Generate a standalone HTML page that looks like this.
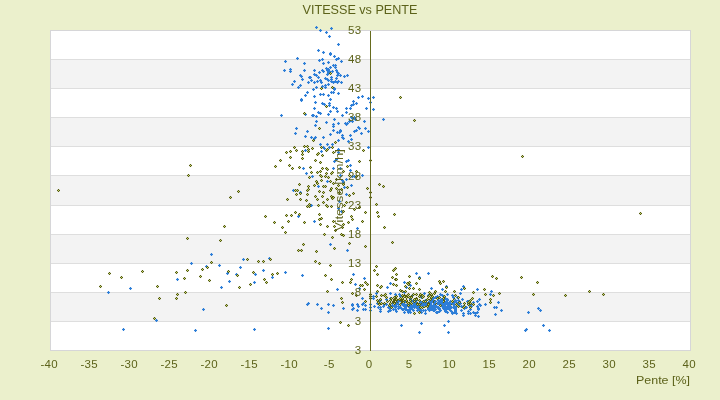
<!DOCTYPE html>
<html><head><meta charset="utf-8"><title>VITESSE vs PENTE</title>
<style>
html,body{margin:0;padding:0;background:#ebf0cc;}
body{position:relative;width:720px;height:400px;overflow:hidden;font-family:"Liberation Sans",sans-serif;}
svg{display:block}
text{font-family:"Liberation Sans",sans-serif;fill:#5c621a;}
.ov{position:absolute;left:0;top:0;will-change:transform;opacity:0.999}
</style></head><body>
<svg width="720" height="400" viewBox="0 0 720 400">
<defs>
<g id="o"><rect x="-1.5" y="-1.5" width="3" height="3" fill="#5c620e" opacity="0.14"/><path d="M-1.5-.5h3v1h-3zM-.5-1.5h1v3h-1z" fill="#555c0c"/><rect x="-.5" y="-.5" width="1" height="1" fill="#c2d272"/></g>
<g id="b"><rect x="-1.5" y="-1.5" width="3" height="3" fill="#2c7ed8" opacity="0.13"/><path d="M-1.5-.5h3v1h-3zM-.5-1.5h1v3h-1z" fill="#2c7ed8"/></g>
</defs>
<rect x="0" y="0" width="720" height="400" fill="#ebf0cc"/>
<rect x="50.5" y="30.5" width="640" height="320" fill="#ffffff" stroke="#d6d6d8" stroke-width="1"/>
<rect x="51" y="30" width="639" height="29" fill="#ffffff"/><rect x="51" y="59" width="639" height="29" fill="#f3f3f3"/><rect x="51" y="88" width="639" height="29" fill="#ffffff"/><rect x="51" y="117" width="639" height="29" fill="#f3f3f3"/><rect x="51" y="146" width="639" height="29" fill="#ffffff"/><rect x="51" y="175" width="639" height="30" fill="#f3f3f3"/><rect x="51" y="205" width="639" height="29" fill="#ffffff"/><rect x="51" y="234" width="639" height="29" fill="#f3f3f3"/><rect x="51" y="263" width="639" height="29" fill="#ffffff"/><rect x="51" y="292" width="639" height="29" fill="#f3f3f3"/><rect x="51" y="321" width="639" height="29" fill="#ffffff"/>
<rect x="51" y="59" width="639" height="1" fill="#dedede"/><rect x="51" y="88" width="639" height="1" fill="#dedede"/><rect x="51" y="117" width="639" height="1" fill="#dedede"/><rect x="51" y="146" width="639" height="1" fill="#dedede"/><rect x="51" y="175" width="639" height="1" fill="#dedede"/><rect x="51" y="205" width="639" height="1" fill="#dedede"/><rect x="51" y="234" width="639" height="1" fill="#dedede"/><rect x="51" y="263" width="639" height="1" fill="#dedede"/><rect x="51" y="292" width="639" height="1" fill="#dedede"/><rect x="51" y="321" width="639" height="1" fill="#dedede"/>
<rect x="50.5" y="30.5" width="640" height="320" fill="none" stroke="#d6d6d8" stroke-width="1"/>
<g id="pts-blue"><use href="#b" x="108.5" y="292.5"/><use href="#b" x="123.5" y="329.5"/><use href="#b" x="130.5" y="288.5"/><use href="#b" x="156.5" y="320.5"/><use href="#b" x="177.5" y="279.5"/><use href="#b" x="191.5" y="263.5"/><use href="#b" x="195.5" y="330.5"/><use href="#b" x="203.5" y="309.5"/><use href="#b" x="206.5" y="266.5"/><use href="#b" x="211.5" y="254.5"/><use href="#b" x="219.5" y="265.5"/><use href="#b" x="221.5" y="287.5"/><use href="#b" x="227.5" y="273.5"/><use href="#b" x="229.5" y="281.5"/><use href="#b" x="236.5" y="274.5"/><use href="#b" x="240.5" y="267.5"/><use href="#b" x="243.5" y="259.5"/><use href="#b" x="254.5" y="282.5"/><use href="#b" x="254.5" y="329.5"/><use href="#b" x="255.5" y="274.5"/><use href="#b" x="263.5" y="270.5"/><use href="#b" x="269.5" y="258.5"/><use href="#b" x="272.5" y="277.5"/><use href="#b" x="281.5" y="115.5"/><use href="#b" x="284.5" y="70.5"/><use href="#b" x="285.5" y="61.5"/><use href="#b" x="285.5" y="272.5"/><use href="#b" x="290.5" y="69.5"/><use href="#b" x="290.5" y="71.5"/><use href="#b" x="292.5" y="84.5"/><use href="#b" x="293.5" y="190.5"/><use href="#b" x="294.5" y="81.5"/><use href="#b" x="295.5" y="133.5"/><use href="#b" x="296.5" y="128.5"/><use href="#b" x="297.5" y="58.5"/><use href="#b" x="298.5" y="87.5"/><use href="#b" x="298.5" y="216.5"/><use href="#b" x="300.5" y="75.5"/><use href="#b" x="300.5" y="85.5"/><use href="#b" x="300.5" y="192.5"/><use href="#b" x="301.5" y="76.5"/><use href="#b" x="301.5" y="99.5"/><use href="#b" x="301.5" y="100.5"/><use href="#b" x="302.5" y="79.5"/><use href="#b" x="302.5" y="275.5"/><use href="#b" x="303.5" y="168.5"/><use href="#b" x="304.5" y="63.5"/><use href="#b" x="304.5" y="70.5"/><use href="#b" x="305.5" y="95.5"/><use href="#b" x="305.5" y="114.5"/><use href="#b" x="305.5" y="136.5"/><use href="#b" x="305.5" y="150.5"/><use href="#b" x="306.5" y="173.5"/><use href="#b" x="307.5" y="92.5"/><use href="#b" x="307.5" y="131.5"/><use href="#b" x="307.5" y="304.5"/><use href="#b" x="308.5" y="82.5"/><use href="#b" x="308.5" y="303.5"/><use href="#b" x="309.5" y="77.5"/><use href="#b" x="310.5" y="77.5"/><use href="#b" x="311.5" y="80.5"/><use href="#b" x="311.5" y="137.5"/><use href="#b" x="311.5" y="205.5"/><use href="#b" x="312.5" y="115.5"/><use href="#b" x="312.5" y="176.5"/><use href="#b" x="313.5" y="89.5"/><use href="#b" x="313.5" y="115.5"/><use href="#b" x="314.5" y="70.5"/><use href="#b" x="314.5" y="74.5"/><use href="#b" x="314.5" y="82.5"/><use href="#b" x="314.5" y="96.5"/><use href="#b" x="314.5" y="108.5"/><use href="#b" x="314.5" y="138.5"/><use href="#b" x="314.5" y="221.5"/><use href="#b" x="315.5" y="102.5"/><use href="#b" x="315.5" y="125.5"/><use href="#b" x="315.5" y="137.5"/><use href="#b" x="316.5" y="27.5"/><use href="#b" x="316.5" y="75.5"/><use href="#b" x="316.5" y="87.5"/><use href="#b" x="316.5" y="116.5"/><use href="#b" x="316.5" y="121.5"/><use href="#b" x="317.5" y="81.5"/><use href="#b" x="317.5" y="304.5"/><use href="#b" x="318.5" y="50.5"/><use href="#b" x="318.5" y="77.5"/><use href="#b" x="318.5" y="112.5"/><use href="#b" x="318.5" y="186.5"/><use href="#b" x="319.5" y="60.5"/><use href="#b" x="319.5" y="72.5"/><use href="#b" x="320.5" y="30.5"/><use href="#b" x="320.5" y="80.5"/><use href="#b" x="320.5" y="94.5"/><use href="#b" x="320.5" y="113.5"/><use href="#b" x="320.5" y="144.5"/><use href="#b" x="321.5" y="82.5"/><use href="#b" x="321.5" y="151.5"/><use href="#b" x="321.5" y="308.5"/><use href="#b" x="322.5" y="59.5"/><use href="#b" x="322.5" y="70.5"/><use href="#b" x="322.5" y="86.5"/><use href="#b" x="322.5" y="103.5"/><use href="#b" x="323.5" y="52.5"/><use href="#b" x="323.5" y="63.5"/><use href="#b" x="323.5" y="71.5"/><use href="#b" x="323.5" y="94.5"/><use href="#b" x="323.5" y="137.5"/><use href="#b" x="323.5" y="147.5"/><use href="#b" x="324.5" y="104.5"/><use href="#b" x="324.5" y="148.5"/><use href="#b" x="325.5" y="78.5"/><use href="#b" x="325.5" y="85.5"/><use href="#b" x="325.5" y="87.5"/><use href="#b" x="326.5" y="32.5"/><use href="#b" x="326.5" y="68.5"/><use href="#b" x="326.5" y="122.5"/><use href="#b" x="327.5" y="70.5"/><use href="#b" x="327.5" y="74.5"/><use href="#b" x="327.5" y="79.5"/><use href="#b" x="327.5" y="144.5"/><use href="#b" x="327.5" y="181.5"/><use href="#b" x="328.5" y="62.5"/><use href="#b" x="328.5" y="69.5"/><use href="#b" x="328.5" y="72.5"/><use href="#b" x="328.5" y="80.5"/><use href="#b" x="328.5" y="84.5"/><use href="#b" x="328.5" y="95.5"/><use href="#b" x="328.5" y="114.5"/><use href="#b" x="328.5" y="304.5"/><use href="#b" x="328.5" y="312.5"/><use href="#b" x="328.5" y="328.5"/><use href="#b" x="329.5" y="36.5"/><use href="#b" x="329.5" y="71.5"/><use href="#b" x="329.5" y="103.5"/><use href="#b" x="329.5" y="105.5"/><use href="#b" x="329.5" y="147.5"/><use href="#b" x="330.5" y="53.5"/><use href="#b" x="330.5" y="54.5"/><use href="#b" x="330.5" y="67.5"/><use href="#b" x="330.5" y="99.5"/><use href="#b" x="330.5" y="111.5"/><use href="#b" x="330.5" y="134.5"/><use href="#b" x="330.5" y="244.5"/><use href="#b" x="331.5" y="28.5"/><use href="#b" x="331.5" y="77.5"/><use href="#b" x="331.5" y="79.5"/><use href="#b" x="331.5" y="81.5"/><use href="#b" x="331.5" y="92.5"/><use href="#b" x="332.5" y="71.5"/><use href="#b" x="332.5" y="144.5"/><use href="#b" x="333.5" y="65.5"/><use href="#b" x="333.5" y="82.5"/><use href="#b" x="333.5" y="92.5"/><use href="#b" x="333.5" y="107.5"/><use href="#b" x="333.5" y="124.5"/><use href="#b" x="333.5" y="126.5"/><use href="#b" x="333.5" y="130.5"/><use href="#b" x="333.5" y="168.5"/><use href="#b" x="333.5" y="305.5"/><use href="#b" x="334.5" y="56.5"/><use href="#b" x="334.5" y="88.5"/><use href="#b" x="334.5" y="89.5"/><use href="#b" x="334.5" y="119.5"/><use href="#b" x="334.5" y="161.5"/><use href="#b" x="335.5" y="65.5"/><use href="#b" x="335.5" y="67.5"/><use href="#b" x="335.5" y="81.5"/><use href="#b" x="336.5" y="59.5"/><use href="#b" x="336.5" y="70.5"/><use href="#b" x="336.5" y="78.5"/><use href="#b" x="336.5" y="108.5"/><use href="#b" x="336.5" y="159.5"/><use href="#b" x="337.5" y="72.5"/><use href="#b" x="337.5" y="75.5"/><use href="#b" x="337.5" y="82.5"/><use href="#b" x="337.5" y="111.5"/><use href="#b" x="337.5" y="132.5"/><use href="#b" x="337.5" y="289.5"/><use href="#b" x="338.5" y="44.5"/><use href="#b" x="338.5" y="58.5"/><use href="#b" x="338.5" y="73.5"/><use href="#b" x="338.5" y="81.5"/><use href="#b" x="338.5" y="93.5"/><use href="#b" x="338.5" y="123.5"/><use href="#b" x="338.5" y="140.5"/><use href="#b" x="338.5" y="149.5"/><use href="#b" x="338.5" y="152.5"/><use href="#b" x="338.5" y="208.5"/><use href="#b" x="339.5" y="132.5"/><use href="#b" x="339.5" y="201.5"/><use href="#b" x="340.5" y="75.5"/><use href="#b" x="340.5" y="130.5"/><use href="#b" x="340.5" y="131.5"/><use href="#b" x="340.5" y="168.5"/><use href="#b" x="340.5" y="175.5"/><use href="#b" x="341.5" y="61.5"/><use href="#b" x="341.5" y="82.5"/><use href="#b" x="341.5" y="211.5"/><use href="#b" x="342.5" y="115.5"/><use href="#b" x="342.5" y="135.5"/><use href="#b" x="342.5" y="137.5"/><use href="#b" x="342.5" y="180.5"/><use href="#b" x="343.5" y="138.5"/><use href="#b" x="343.5" y="182.5"/><use href="#b" x="343.5" y="308.5"/><use href="#b" x="344.5" y="76.5"/><use href="#b" x="344.5" y="187.5"/><use href="#b" x="345.5" y="123.5"/><use href="#b" x="346.5" y="108.5"/><use href="#b" x="346.5" y="112.5"/><use href="#b" x="346.5" y="124.5"/><use href="#b" x="346.5" y="161.5"/><use href="#b" x="346.5" y="179.5"/><use href="#b" x="346.5" y="194.5"/><use href="#b" x="347.5" y="75.5"/><use href="#b" x="347.5" y="123.5"/><use href="#b" x="347.5" y="250.5"/><use href="#b" x="348.5" y="141.5"/><use href="#b" x="348.5" y="160.5"/><use href="#b" x="349.5" y="121.5"/><use href="#b" x="350.5" y="108.5"/><use href="#b" x="350.5" y="135.5"/><use href="#b" x="350.5" y="165.5"/><use href="#b" x="350.5" y="170.5"/><use href="#b" x="351.5" y="105.5"/><use href="#b" x="351.5" y="117.5"/><use href="#b" x="351.5" y="139.5"/><use href="#b" x="351.5" y="185.5"/><use href="#b" x="352.5" y="118.5"/><use href="#b" x="352.5" y="121.5"/><use href="#b" x="352.5" y="176.5"/><use href="#b" x="352.5" y="304.5"/><use href="#b" x="352.5" y="305.5"/><use href="#b" x="352.5" y="309.5"/><use href="#b" x="353.5" y="101.5"/><use href="#b" x="353.5" y="104.5"/><use href="#b" x="353.5" y="274.5"/><use href="#b" x="353.5" y="308.5"/><use href="#b" x="354.5" y="117.5"/><use href="#b" x="354.5" y="131.5"/><use href="#b" x="354.5" y="176.5"/><use href="#b" x="355.5" y="119.5"/><use href="#b" x="355.5" y="284.5"/><use href="#b" x="356.5" y="103.5"/><use href="#b" x="356.5" y="130.5"/><use href="#b" x="357.5" y="228.5"/><use href="#b" x="357.5" y="304.5"/><use href="#b" x="357.5" y="310.5"/><use href="#b" x="358.5" y="97.5"/><use href="#b" x="358.5" y="127.5"/><use href="#b" x="358.5" y="306.5"/><use href="#b" x="359.5" y="128.5"/><use href="#b" x="359.5" y="288.5"/><use href="#b" x="361.5" y="133.5"/><use href="#b" x="362.5" y="96.5"/><use href="#b" x="362.5" y="175.5"/><use href="#b" x="362.5" y="298.5"/><use href="#b" x="362.5" y="304.5"/><use href="#b" x="363.5" y="303.5"/><use href="#b" x="363.5" y="309.5"/><use href="#b" x="364.5" y="121.5"/><use href="#b" x="364.5" y="278.5"/><use href="#b" x="365.5" y="128.5"/><use href="#b" x="365.5" y="305.5"/><use href="#b" x="365.5" y="309.5"/><use href="#b" x="366.5" y="108.5"/><use href="#b" x="368.5" y="98.5"/><use href="#b" x="368.5" y="131.5"/><use href="#b" x="368.5" y="147.5"/><use href="#b" x="370.5" y="102.5"/><use href="#b" x="370.5" y="304.5"/><use href="#b" x="370.5" y="307.5"/><use href="#b" x="370.5" y="310.5"/><use href="#b" x="373.5" y="97.5"/><use href="#b" x="373.5" y="109.5"/><use href="#b" x="373.5" y="296.5"/><use href="#b" x="373.5" y="298.5"/><use href="#b" x="374.5" y="306.5"/><use href="#b" x="376.5" y="293.5"/><use href="#b" x="377.5" y="303.5"/><use href="#b" x="378.5" y="307.5"/><use href="#b" x="379.5" y="301.5"/><use href="#b" x="380.5" y="300.5"/><use href="#b" x="380.5" y="307.5"/><use href="#b" x="380.5" y="309.5"/><use href="#b" x="380.5" y="311.5"/><use href="#b" x="381.5" y="303.5"/><use href="#b" x="383.5" y="119.5"/><use href="#b" x="383.5" y="306.5"/><use href="#b" x="384.5" y="304.5"/><use href="#b" x="386.5" y="299.5"/><use href="#b" x="386.5" y="304.5"/><use href="#b" x="387.5" y="287.5"/><use href="#b" x="388.5" y="307.5"/><use href="#b" x="388.5" y="311.5"/><use href="#b" x="389.5" y="308.5"/><use href="#b" x="390.5" y="283.5"/><use href="#b" x="390.5" y="293.5"/><use href="#b" x="390.5" y="298.5"/><use href="#b" x="390.5" y="307.5"/><use href="#b" x="390.5" y="310.5"/><use href="#b" x="391.5" y="306.5"/><use href="#b" x="392.5" y="303.5"/><use href="#b" x="392.5" y="306.5"/><use href="#b" x="393.5" y="309.5"/><use href="#b" x="394.5" y="305.5"/><use href="#b" x="395.5" y="294.5"/><use href="#b" x="395.5" y="305.5"/><use href="#b" x="395.5" y="306.5"/><use href="#b" x="395.5" y="307.5"/><use href="#b" x="395.5" y="309.5"/><use href="#b" x="396.5" y="303.5"/><use href="#b" x="396.5" y="311.5"/><use href="#b" x="398.5" y="304.5"/><use href="#b" x="398.5" y="306.5"/><use href="#b" x="399.5" y="294.5"/><use href="#b" x="400.5" y="296.5"/><use href="#b" x="400.5" y="307.5"/><use href="#b" x="401.5" y="301.5"/><use href="#b" x="401.5" y="325.5"/><use href="#b" x="402.5" y="304.5"/><use href="#b" x="402.5" y="309.5"/><use href="#b" x="403.5" y="303.5"/><use href="#b" x="403.5" y="304.5"/><use href="#b" x="403.5" y="305.5"/><use href="#b" x="403.5" y="309.5"/><use href="#b" x="404.5" y="282.5"/><use href="#b" x="404.5" y="292.5"/><use href="#b" x="404.5" y="301.5"/><use href="#b" x="404.5" y="302.5"/><use href="#b" x="404.5" y="304.5"/><use href="#b" x="404.5" y="312.5"/><use href="#b" x="405.5" y="307.5"/><use href="#b" x="405.5" y="308.5"/><use href="#b" x="405.5" y="309.5"/><use href="#b" x="406.5" y="287.5"/><use href="#b" x="406.5" y="301.5"/><use href="#b" x="406.5" y="306.5"/><use href="#b" x="407.5" y="304.5"/><use href="#b" x="407.5" y="305.5"/><use href="#b" x="407.5" y="310.5"/><use href="#b" x="408.5" y="305.5"/><use href="#b" x="408.5" y="310.5"/><use href="#b" x="408.5" y="312.5"/><use href="#b" x="409.5" y="304.5"/><use href="#b" x="409.5" y="307.5"/><use href="#b" x="409.5" y="310.5"/><use href="#b" x="410.5" y="285.5"/><use href="#b" x="410.5" y="299.5"/><use href="#b" x="410.5" y="303.5"/><use href="#b" x="410.5" y="305.5"/><use href="#b" x="410.5" y="306.5"/><use href="#b" x="410.5" y="308.5"/><use href="#b" x="410.5" y="312.5"/><use href="#b" x="411.5" y="301.5"/><use href="#b" x="411.5" y="303.5"/><use href="#b" x="411.5" y="305.5"/><use href="#b" x="411.5" y="306.5"/><use href="#b" x="412.5" y="295.5"/><use href="#b" x="412.5" y="306.5"/><use href="#b" x="413.5" y="300.5"/><use href="#b" x="413.5" y="303.5"/><use href="#b" x="413.5" y="305.5"/><use href="#b" x="413.5" y="310.5"/><use href="#b" x="414.5" y="302.5"/><use href="#b" x="414.5" y="303.5"/><use href="#b" x="414.5" y="307.5"/><use href="#b" x="415.5" y="301.5"/><use href="#b" x="415.5" y="304.5"/><use href="#b" x="416.5" y="273.5"/><use href="#b" x="416.5" y="300.5"/><use href="#b" x="416.5" y="303.5"/><use href="#b" x="416.5" y="307.5"/><use href="#b" x="417.5" y="305.5"/><use href="#b" x="417.5" y="307.5"/><use href="#b" x="417.5" y="310.5"/><use href="#b" x="419.5" y="277.5"/><use href="#b" x="419.5" y="306.5"/><use href="#b" x="419.5" y="308.5"/><use href="#b" x="419.5" y="309.5"/><use href="#b" x="419.5" y="332.5"/><use href="#b" x="420.5" y="294.5"/><use href="#b" x="420.5" y="303.5"/><use href="#b" x="420.5" y="304.5"/><use href="#b" x="420.5" y="305.5"/><use href="#b" x="420.5" y="307.5"/><use href="#b" x="420.5" y="310.5"/><use href="#b" x="421.5" y="297.5"/><use href="#b" x="421.5" y="302.5"/><use href="#b" x="421.5" y="310.5"/><use href="#b" x="421.5" y="312.5"/><use href="#b" x="421.5" y="323.5"/><use href="#b" x="422.5" y="302.5"/><use href="#b" x="422.5" y="305.5"/><use href="#b" x="423.5" y="296.5"/><use href="#b" x="423.5" y="303.5"/><use href="#b" x="423.5" y="304.5"/><use href="#b" x="423.5" y="310.5"/><use href="#b" x="424.5" y="293.5"/><use href="#b" x="424.5" y="303.5"/><use href="#b" x="424.5" y="305.5"/><use href="#b" x="424.5" y="306.5"/><use href="#b" x="425.5" y="300.5"/><use href="#b" x="425.5" y="303.5"/><use href="#b" x="425.5" y="310.5"/><use href="#b" x="425.5" y="313.5"/><use href="#b" x="426.5" y="303.5"/><use href="#b" x="426.5" y="304.5"/><use href="#b" x="427.5" y="303.5"/><use href="#b" x="427.5" y="304.5"/><use href="#b" x="428.5" y="273.5"/><use href="#b" x="428.5" y="295.5"/><use href="#b" x="428.5" y="303.5"/><use href="#b" x="428.5" y="308.5"/><use href="#b" x="428.5" y="309.5"/><use href="#b" x="429.5" y="301.5"/><use href="#b" x="429.5" y="306.5"/><use href="#b" x="429.5" y="310.5"/><use href="#b" x="430.5" y="301.5"/><use href="#b" x="430.5" y="304.5"/><use href="#b" x="431.5" y="288.5"/><use href="#b" x="431.5" y="305.5"/><use href="#b" x="431.5" y="306.5"/><use href="#b" x="431.5" y="309.5"/><use href="#b" x="432.5" y="300.5"/><use href="#b" x="432.5" y="307.5"/><use href="#b" x="433.5" y="298.5"/><use href="#b" x="433.5" y="305.5"/><use href="#b" x="433.5" y="306.5"/><use href="#b" x="433.5" y="308.5"/><use href="#b" x="433.5" y="310.5"/><use href="#b" x="434.5" y="310.5"/><use href="#b" x="435.5" y="297.5"/><use href="#b" x="435.5" y="306.5"/><use href="#b" x="435.5" y="307.5"/><use href="#b" x="435.5" y="309.5"/><use href="#b" x="436.5" y="306.5"/><use href="#b" x="436.5" y="312.5"/><use href="#b" x="437.5" y="296.5"/><use href="#b" x="437.5" y="303.5"/><use href="#b" x="437.5" y="312.5"/><use href="#b" x="438.5" y="302.5"/><use href="#b" x="438.5" y="307.5"/><use href="#b" x="439.5" y="301.5"/><use href="#b" x="439.5" y="304.5"/><use href="#b" x="439.5" y="308.5"/><use href="#b" x="439.5" y="311.5"/><use href="#b" x="440.5" y="294.5"/><use href="#b" x="440.5" y="301.5"/><use href="#b" x="440.5" y="304.5"/><use href="#b" x="440.5" y="310.5"/><use href="#b" x="441.5" y="299.5"/><use href="#b" x="441.5" y="303.5"/><use href="#b" x="442.5" y="289.5"/><use href="#b" x="442.5" y="295.5"/><use href="#b" x="442.5" y="303.5"/><use href="#b" x="442.5" y="306.5"/><use href="#b" x="443.5" y="306.5"/><use href="#b" x="444.5" y="298.5"/><use href="#b" x="444.5" y="301.5"/><use href="#b" x="444.5" y="305.5"/><use href="#b" x="444.5" y="308.5"/><use href="#b" x="444.5" y="325.5"/><use href="#b" x="445.5" y="298.5"/><use href="#b" x="445.5" y="302.5"/><use href="#b" x="445.5" y="306.5"/><use href="#b" x="445.5" y="311.5"/><use href="#b" x="446.5" y="286.5"/><use href="#b" x="446.5" y="301.5"/><use href="#b" x="446.5" y="307.5"/><use href="#b" x="447.5" y="294.5"/><use href="#b" x="447.5" y="299.5"/><use href="#b" x="447.5" y="300.5"/><use href="#b" x="447.5" y="306.5"/><use href="#b" x="447.5" y="308.5"/><use href="#b" x="447.5" y="312.5"/><use href="#b" x="448.5" y="303.5"/><use href="#b" x="448.5" y="304.5"/><use href="#b" x="448.5" y="307.5"/><use href="#b" x="448.5" y="321.5"/><use href="#b" x="448.5" y="332.5"/><use href="#b" x="449.5" y="303.5"/><use href="#b" x="449.5" y="306.5"/><use href="#b" x="449.5" y="309.5"/><use href="#b" x="450.5" y="301.5"/><use href="#b" x="450.5" y="306.5"/><use href="#b" x="450.5" y="310.5"/><use href="#b" x="451.5" y="307.5"/><use href="#b" x="451.5" y="311.5"/><use href="#b" x="452.5" y="295.5"/><use href="#b" x="452.5" y="301.5"/><use href="#b" x="452.5" y="313.5"/><use href="#b" x="453.5" y="297.5"/><use href="#b" x="453.5" y="303.5"/><use href="#b" x="453.5" y="307.5"/><use href="#b" x="454.5" y="302.5"/><use href="#b" x="454.5" y="306.5"/><use href="#b" x="454.5" y="312.5"/><use href="#b" x="455.5" y="308.5"/><use href="#b" x="455.5" y="309.5"/><use href="#b" x="455.5" y="310.5"/><use href="#b" x="455.5" y="311.5"/><use href="#b" x="456.5" y="302.5"/><use href="#b" x="456.5" y="306.5"/><use href="#b" x="456.5" y="313.5"/><use href="#b" x="457.5" y="297.5"/><use href="#b" x="458.5" y="300.5"/><use href="#b" x="458.5" y="303.5"/><use href="#b" x="458.5" y="304.5"/><use href="#b" x="459.5" y="301.5"/><use href="#b" x="459.5" y="304.5"/><use href="#b" x="460.5" y="293.5"/><use href="#b" x="460.5" y="303.5"/><use href="#b" x="461.5" y="289.5"/><use href="#b" x="461.5" y="306.5"/><use href="#b" x="461.5" y="310.5"/><use href="#b" x="462.5" y="299.5"/><use href="#b" x="463.5" y="286.5"/><use href="#b" x="463.5" y="306.5"/><use href="#b" x="463.5" y="313.5"/><use href="#b" x="463.5" y="315.5"/><use href="#b" x="464.5" y="308.5"/><use href="#b" x="467.5" y="301.5"/><use href="#b" x="468.5" y="301.5"/><use href="#b" x="468.5" y="303.5"/><use href="#b" x="468.5" y="311.5"/><use href="#b" x="468.5" y="313.5"/><use href="#b" x="469.5" y="305.5"/><use href="#b" x="470.5" y="309.5"/><use href="#b" x="470.5" y="313.5"/><use href="#b" x="471.5" y="304.5"/><use href="#b" x="471.5" y="306.5"/><use href="#b" x="473.5" y="302.5"/><use href="#b" x="473.5" y="312.5"/><use href="#b" x="475.5" y="313.5"/><use href="#b" x="475.5" y="315.5"/><use href="#b" x="477.5" y="289.5"/><use href="#b" x="477.5" y="301.5"/><use href="#b" x="477.5" y="306.5"/><use href="#b" x="477.5" y="312.5"/><use href="#b" x="478.5" y="308.5"/><use href="#b" x="478.5" y="309.5"/><use href="#b" x="478.5" y="316.5"/><use href="#b" x="479.5" y="299.5"/><use href="#b" x="479.5" y="304.5"/><use href="#b" x="480.5" y="305.5"/><use href="#b" x="485.5" y="304.5"/><use href="#b" x="490.5" y="294.5"/><use href="#b" x="491.5" y="291.5"/><use href="#b" x="494.5" y="307.5"/><use href="#b" x="495.5" y="314.5"/><use href="#b" x="496.5" y="307.5"/><use href="#b" x="498.5" y="302.5"/><use href="#b" x="501.5" y="310.5"/><use href="#b" x="525.5" y="330.5"/><use href="#b" x="526.5" y="329.5"/><use href="#b" x="528.5" y="312.5"/><use href="#b" x="538.5" y="308.5"/><use href="#b" x="540.5" y="310.5"/><use href="#b" x="543.5" y="325.5"/><use href="#b" x="549.5" y="330.5"/></g>
<g id="pts-olive"><use href="#o" x="58.5" y="190.5"/><use href="#o" x="100.5" y="286.5"/><use href="#o" x="109.5" y="273.5"/><use href="#o" x="121.5" y="277.5"/><use href="#o" x="142.5" y="271.5"/><use href="#o" x="154.5" y="318.5"/><use href="#o" x="157.5" y="286.5"/><use href="#o" x="159.5" y="298.5"/><use href="#o" x="176.5" y="272.5"/><use href="#o" x="176.5" y="298.5"/><use href="#o" x="177.5" y="294.5"/><use href="#o" x="184.5" y="278.5"/><use href="#o" x="185.5" y="292.5"/><use href="#o" x="187.5" y="238.5"/><use href="#o" x="187.5" y="270.5"/><use href="#o" x="188.5" y="175.5"/><use href="#o" x="190.5" y="165.5"/><use href="#o" x="200.5" y="276.5"/><use href="#o" x="202.5" y="269.5"/><use href="#o" x="207.5" y="267.5"/><use href="#o" x="209.5" y="280.5"/><use href="#o" x="211.5" y="262.5"/><use href="#o" x="220.5" y="240.5"/><use href="#o" x="224.5" y="226.5"/><use href="#o" x="226.5" y="305.5"/><use href="#o" x="228.5" y="271.5"/><use href="#o" x="230.5" y="197.5"/><use href="#o" x="237.5" y="275.5"/><use href="#o" x="238.5" y="191.5"/><use href="#o" x="239.5" y="287.5"/><use href="#o" x="247.5" y="259.5"/><use href="#o" x="250.5" y="284.5"/><use href="#o" x="253.5" y="272.5"/><use href="#o" x="258.5" y="261.5"/><use href="#o" x="263.5" y="261.5"/><use href="#o" x="264.5" y="279.5"/><use href="#o" x="265.5" y="216.5"/><use href="#o" x="266.5" y="282.5"/><use href="#o" x="270.5" y="259.5"/><use href="#o" x="272.5" y="274.5"/><use href="#o" x="274.5" y="222.5"/><use href="#o" x="275.5" y="166.5"/><use href="#o" x="277.5" y="273.5"/><use href="#o" x="280.5" y="160.5"/><use href="#o" x="282.5" y="227.5"/><use href="#o" x="285.5" y="232.5"/><use href="#o" x="286.5" y="152.5"/><use href="#o" x="286.5" y="215.5"/><use href="#o" x="287.5" y="199.5"/><use href="#o" x="288.5" y="221.5"/><use href="#o" x="289.5" y="165.5"/><use href="#o" x="290.5" y="151.5"/><use href="#o" x="290.5" y="157.5"/><use href="#o" x="291.5" y="215.5"/><use href="#o" x="292.5" y="168.5"/><use href="#o" x="294.5" y="147.5"/><use href="#o" x="295.5" y="190.5"/><use href="#o" x="295.5" y="212.5"/><use href="#o" x="296.5" y="150.5"/><use href="#o" x="296.5" y="194.5"/><use href="#o" x="297.5" y="190.5"/><use href="#o" x="298.5" y="250.5"/><use href="#o" x="299.5" y="167.5"/><use href="#o" x="299.5" y="184.5"/><use href="#o" x="299.5" y="214.5"/><use href="#o" x="300.5" y="193.5"/><use href="#o" x="300.5" y="199.5"/><use href="#o" x="301.5" y="250.5"/><use href="#o" x="302.5" y="151.5"/><use href="#o" x="302.5" y="154.5"/><use href="#o" x="302.5" y="158.5"/><use href="#o" x="303.5" y="244.5"/><use href="#o" x="304.5" y="113.5"/><use href="#o" x="304.5" y="146.5"/><use href="#o" x="304.5" y="222.5"/><use href="#o" x="306.5" y="200.5"/><use href="#o" x="307.5" y="146.5"/><use href="#o" x="307.5" y="190.5"/><use href="#o" x="307.5" y="194.5"/><use href="#o" x="307.5" y="206.5"/><use href="#o" x="308.5" y="149.5"/><use href="#o" x="308.5" y="151.5"/><use href="#o" x="308.5" y="186.5"/><use href="#o" x="308.5" y="189.5"/><use href="#o" x="309.5" y="177.5"/><use href="#o" x="309.5" y="204.5"/><use href="#o" x="309.5" y="206.5"/><use href="#o" x="310.5" y="167.5"/><use href="#o" x="311.5" y="172.5"/><use href="#o" x="312.5" y="148.5"/><use href="#o" x="313.5" y="140.5"/><use href="#o" x="314.5" y="185.5"/><use href="#o" x="315.5" y="160.5"/><use href="#o" x="315.5" y="196.5"/><use href="#o" x="315.5" y="261.5"/><use href="#o" x="316.5" y="181.5"/><use href="#o" x="316.5" y="251.5"/><use href="#o" x="317.5" y="154.5"/><use href="#o" x="317.5" y="172.5"/><use href="#o" x="317.5" y="183.5"/><use href="#o" x="317.5" y="199.5"/><use href="#o" x="318.5" y="153.5"/><use href="#o" x="318.5" y="205.5"/><use href="#o" x="319.5" y="128.5"/><use href="#o" x="319.5" y="191.5"/><use href="#o" x="319.5" y="214.5"/><use href="#o" x="319.5" y="219.5"/><use href="#o" x="319.5" y="263.5"/><use href="#o" x="320.5" y="162.5"/><use href="#o" x="320.5" y="171.5"/><use href="#o" x="320.5" y="175.5"/><use href="#o" x="320.5" y="224.5"/><use href="#o" x="321.5" y="88.5"/><use href="#o" x="321.5" y="147.5"/><use href="#o" x="321.5" y="176.5"/><use href="#o" x="321.5" y="180.5"/><use href="#o" x="321.5" y="218.5"/><use href="#o" x="322.5" y="155.5"/><use href="#o" x="322.5" y="168.5"/><use href="#o" x="322.5" y="196.5"/><use href="#o" x="323.5" y="186.5"/><use href="#o" x="323.5" y="192.5"/><use href="#o" x="323.5" y="202.5"/><use href="#o" x="324.5" y="234.5"/><use href="#o" x="325.5" y="176.5"/><use href="#o" x="325.5" y="186.5"/><use href="#o" x="325.5" y="275.5"/><use href="#o" x="326.5" y="106.5"/><use href="#o" x="326.5" y="150.5"/><use href="#o" x="326.5" y="168.5"/><use href="#o" x="326.5" y="173.5"/><use href="#o" x="326.5" y="205.5"/><use href="#o" x="327.5" y="149.5"/><use href="#o" x="327.5" y="169.5"/><use href="#o" x="327.5" y="199.5"/><use href="#o" x="327.5" y="206.5"/><use href="#o" x="327.5" y="226.5"/><use href="#o" x="327.5" y="291.5"/><use href="#o" x="328.5" y="177.5"/><use href="#o" x="330.5" y="73.5"/><use href="#o" x="330.5" y="181.5"/><use href="#o" x="330.5" y="190.5"/><use href="#o" x="330.5" y="265.5"/><use href="#o" x="331.5" y="173.5"/><use href="#o" x="331.5" y="188.5"/><use href="#o" x="331.5" y="196.5"/><use href="#o" x="331.5" y="206.5"/><use href="#o" x="331.5" y="279.5"/><use href="#o" x="332.5" y="87.5"/><use href="#o" x="332.5" y="147.5"/><use href="#o" x="332.5" y="172.5"/><use href="#o" x="332.5" y="198.5"/><use href="#o" x="332.5" y="237.5"/><use href="#o" x="333.5" y="152.5"/><use href="#o" x="333.5" y="183.5"/><use href="#o" x="333.5" y="197.5"/><use href="#o" x="333.5" y="221.5"/><use href="#o" x="334.5" y="226.5"/><use href="#o" x="334.5" y="248.5"/><use href="#o" x="335.5" y="142.5"/><use href="#o" x="335.5" y="230.5"/><use href="#o" x="336.5" y="179.5"/><use href="#o" x="336.5" y="188.5"/><use href="#o" x="338.5" y="185.5"/><use href="#o" x="339.5" y="192.5"/><use href="#o" x="340.5" y="322.5"/><use href="#o" x="341.5" y="189.5"/><use href="#o" x="341.5" y="234.5"/><use href="#o" x="341.5" y="298.5"/><use href="#o" x="342.5" y="227.5"/><use href="#o" x="342.5" y="282.5"/><use href="#o" x="342.5" y="302.5"/><use href="#o" x="343.5" y="171.5"/><use href="#o" x="343.5" y="184.5"/><use href="#o" x="343.5" y="211.5"/><use href="#o" x="343.5" y="224.5"/><use href="#o" x="343.5" y="235.5"/><use href="#o" x="344.5" y="205.5"/><use href="#o" x="346.5" y="202.5"/><use href="#o" x="347.5" y="166.5"/><use href="#o" x="347.5" y="187.5"/><use href="#o" x="348.5" y="222.5"/><use href="#o" x="348.5" y="325.5"/><use href="#o" x="349.5" y="175.5"/><use href="#o" x="349.5" y="195.5"/><use href="#o" x="349.5" y="243.5"/><use href="#o" x="350.5" y="282.5"/><use href="#o" x="351.5" y="216.5"/><use href="#o" x="351.5" y="279.5"/><use href="#o" x="352.5" y="219.5"/><use href="#o" x="352.5" y="293.5"/><use href="#o" x="353.5" y="193.5"/><use href="#o" x="354.5" y="209.5"/><use href="#o" x="356.5" y="171.5"/><use href="#o" x="356.5" y="176.5"/><use href="#o" x="356.5" y="295.5"/><use href="#o" x="359.5" y="161.5"/><use href="#o" x="359.5" y="207.5"/><use href="#o" x="360.5" y="285.5"/><use href="#o" x="362.5" y="221.5"/><use href="#o" x="362.5" y="285.5"/><use href="#o" x="363.5" y="150.5"/><use href="#o" x="364.5" y="289.5"/><use href="#o" x="365.5" y="212.5"/><use href="#o" x="365.5" y="246.5"/><use href="#o" x="365.5" y="282.5"/><use href="#o" x="365.5" y="301.5"/><use href="#o" x="367.5" y="188.5"/><use href="#o" x="367.5" y="284.5"/><use href="#o" x="370.5" y="160.5"/><use href="#o" x="370.5" y="192.5"/><use href="#o" x="370.5" y="197.5"/><use href="#o" x="370.5" y="294.5"/><use href="#o" x="370.5" y="296.5"/><use href="#o" x="370.5" y="298.5"/><use href="#o" x="374.5" y="270.5"/><use href="#o" x="376.5" y="204.5"/><use href="#o" x="376.5" y="266.5"/><use href="#o" x="376.5" y="296.5"/><use href="#o" x="377.5" y="212.5"/><use href="#o" x="377.5" y="274.5"/><use href="#o" x="377.5" y="285.5"/><use href="#o" x="377.5" y="291.5"/><use href="#o" x="377.5" y="300.5"/><use href="#o" x="378.5" y="216.5"/><use href="#o" x="378.5" y="302.5"/><use href="#o" x="379.5" y="184.5"/><use href="#o" x="379.5" y="304.5"/><use href="#o" x="380.5" y="287.5"/><use href="#o" x="380.5" y="299.5"/><use href="#o" x="381.5" y="286.5"/><use href="#o" x="381.5" y="295.5"/><use href="#o" x="381.5" y="303.5"/><use href="#o" x="383.5" y="186.5"/><use href="#o" x="384.5" y="227.5"/><use href="#o" x="384.5" y="295.5"/><use href="#o" x="384.5" y="303.5"/><use href="#o" x="385.5" y="294.5"/><use href="#o" x="386.5" y="297.5"/><use href="#o" x="387.5" y="301.5"/><use href="#o" x="389.5" y="305.5"/><use href="#o" x="390.5" y="300.5"/><use href="#o" x="390.5" y="303.5"/><use href="#o" x="391.5" y="298.5"/><use href="#o" x="391.5" y="307.5"/><use href="#o" x="392.5" y="242.5"/><use href="#o" x="392.5" y="277.5"/><use href="#o" x="393.5" y="270.5"/><use href="#o" x="393.5" y="284.5"/><use href="#o" x="393.5" y="301.5"/><use href="#o" x="393.5" y="302.5"/><use href="#o" x="394.5" y="214.5"/><use href="#o" x="394.5" y="269.5"/><use href="#o" x="394.5" y="297.5"/><use href="#o" x="394.5" y="299.5"/><use href="#o" x="394.5" y="302.5"/><use href="#o" x="394.5" y="303.5"/><use href="#o" x="395.5" y="268.5"/><use href="#o" x="395.5" y="279.5"/><use href="#o" x="395.5" y="298.5"/><use href="#o" x="395.5" y="299.5"/><use href="#o" x="396.5" y="274.5"/><use href="#o" x="396.5" y="279.5"/><use href="#o" x="396.5" y="285.5"/><use href="#o" x="396.5" y="296.5"/><use href="#o" x="396.5" y="299.5"/><use href="#o" x="397.5" y="301.5"/><use href="#o" x="398.5" y="300.5"/><use href="#o" x="398.5" y="301.5"/><use href="#o" x="399.5" y="299.5"/><use href="#o" x="400.5" y="97.5"/><use href="#o" x="400.5" y="290.5"/><use href="#o" x="400.5" y="298.5"/><use href="#o" x="400.5" y="304.5"/><use href="#o" x="401.5" y="300.5"/><use href="#o" x="401.5" y="303.5"/><use href="#o" x="402.5" y="291.5"/><use href="#o" x="402.5" y="295.5"/><use href="#o" x="402.5" y="298.5"/><use href="#o" x="402.5" y="300.5"/><use href="#o" x="402.5" y="303.5"/><use href="#o" x="403.5" y="300.5"/><use href="#o" x="403.5" y="302.5"/><use href="#o" x="404.5" y="295.5"/><use href="#o" x="404.5" y="296.5"/><use href="#o" x="405.5" y="286.5"/><use href="#o" x="405.5" y="291.5"/><use href="#o" x="406.5" y="297.5"/><use href="#o" x="406.5" y="300.5"/><use href="#o" x="407.5" y="283.5"/><use href="#o" x="407.5" y="295.5"/><use href="#o" x="407.5" y="302.5"/><use href="#o" x="408.5" y="284.5"/><use href="#o" x="408.5" y="294.5"/><use href="#o" x="408.5" y="303.5"/><use href="#o" x="408.5" y="305.5"/><use href="#o" x="409.5" y="276.5"/><use href="#o" x="409.5" y="282.5"/><use href="#o" x="409.5" y="288.5"/><use href="#o" x="409.5" y="297.5"/><use href="#o" x="410.5" y="300.5"/><use href="#o" x="410.5" y="302.5"/><use href="#o" x="411.5" y="296.5"/><use href="#o" x="411.5" y="297.5"/><use href="#o" x="411.5" y="303.5"/><use href="#o" x="413.5" y="288.5"/><use href="#o" x="413.5" y="294.5"/><use href="#o" x="414.5" y="120.5"/><use href="#o" x="414.5" y="299.5"/><use href="#o" x="414.5" y="301.5"/><use href="#o" x="414.5" y="313.5"/><use href="#o" x="416.5" y="283.5"/><use href="#o" x="416.5" y="294.5"/><use href="#o" x="416.5" y="298.5"/><use href="#o" x="416.5" y="299.5"/><use href="#o" x="417.5" y="303.5"/><use href="#o" x="417.5" y="304.5"/><use href="#o" x="419.5" y="278.5"/><use href="#o" x="419.5" y="289.5"/><use href="#o" x="419.5" y="296.5"/><use href="#o" x="419.5" y="300.5"/><use href="#o" x="419.5" y="304.5"/><use href="#o" x="419.5" y="312.5"/><use href="#o" x="420.5" y="294.5"/><use href="#o" x="420.5" y="303.5"/><use href="#o" x="420.5" y="307.5"/><use href="#o" x="422.5" y="295.5"/><use href="#o" x="422.5" y="297.5"/><use href="#o" x="422.5" y="307.5"/><use href="#o" x="423.5" y="296.5"/><use href="#o" x="423.5" y="301.5"/><use href="#o" x="424.5" y="306.5"/><use href="#o" x="425.5" y="301.5"/><use href="#o" x="427.5" y="299.5"/><use href="#o" x="427.5" y="306.5"/><use href="#o" x="428.5" y="296.5"/><use href="#o" x="428.5" y="303.5"/><use href="#o" x="428.5" y="304.5"/><use href="#o" x="429.5" y="292.5"/><use href="#o" x="429.5" y="295.5"/><use href="#o" x="430.5" y="299.5"/><use href="#o" x="431.5" y="294.5"/><use href="#o" x="431.5" y="297.5"/><use href="#o" x="432.5" y="296.5"/><use href="#o" x="434.5" y="293.5"/><use href="#o" x="434.5" y="301.5"/><use href="#o" x="434.5" y="302.5"/><use href="#o" x="435.5" y="291.5"/><use href="#o" x="435.5" y="303.5"/><use href="#o" x="437.5" y="298.5"/><use href="#o" x="438.5" y="300.5"/><use href="#o" x="439.5" y="281.5"/><use href="#o" x="439.5" y="297.5"/><use href="#o" x="440.5" y="283.5"/><use href="#o" x="440.5" y="305.5"/><use href="#o" x="443.5" y="281.5"/><use href="#o" x="443.5" y="298.5"/><use href="#o" x="443.5" y="300.5"/><use href="#o" x="443.5" y="301.5"/><use href="#o" x="444.5" y="296.5"/><use href="#o" x="445.5" y="291.5"/><use href="#o" x="446.5" y="287.5"/><use href="#o" x="450.5" y="304.5"/><use href="#o" x="452.5" y="301.5"/><use href="#o" x="454.5" y="291.5"/><use href="#o" x="454.5" y="299.5"/><use href="#o" x="455.5" y="295.5"/><use href="#o" x="456.5" y="304.5"/><use href="#o" x="458.5" y="297.5"/><use href="#o" x="458.5" y="306.5"/><use href="#o" x="459.5" y="302.5"/><use href="#o" x="463.5" y="307.5"/><use href="#o" x="464.5" y="288.5"/><use href="#o" x="464.5" y="303.5"/><use href="#o" x="464.5" y="306.5"/><use href="#o" x="468.5" y="302.5"/><use href="#o" x="468.5" y="304.5"/><use href="#o" x="469.5" y="301.5"/><use href="#o" x="470.5" y="300.5"/><use href="#o" x="470.5" y="303.5"/><use href="#o" x="470.5" y="307.5"/><use href="#o" x="472.5" y="298.5"/><use href="#o" x="473.5" y="292.5"/><use href="#o" x="473.5" y="304.5"/><use href="#o" x="484.5" y="289.5"/><use href="#o" x="485.5" y="294.5"/><use href="#o" x="490.5" y="299.5"/><use href="#o" x="490.5" y="302.5"/><use href="#o" x="492.5" y="276.5"/><use href="#o" x="493.5" y="295.5"/><use href="#o" x="496.5" y="278.5"/><use href="#o" x="499.5" y="293.5"/><use href="#o" x="521.5" y="277.5"/><use href="#o" x="522.5" y="156.5"/><use href="#o" x="533.5" y="294.5"/><use href="#o" x="537.5" y="282.5"/><use href="#o" x="565.5" y="295.5"/><use href="#o" x="589.5" y="291.5"/><use href="#o" x="603.5" y="294.5"/><use href="#o" x="640.5" y="213.5"/></g>
<g id="pts-blue-top"><use href="#b" x="398.5" y="301.5"/><use href="#b" x="398.5" y="308.5"/><use href="#b" x="400.5" y="307.5"/><use href="#b" x="401.5" y="308.5"/><use href="#b" x="402.5" y="304.5"/><use href="#b" x="403.5" y="304.5"/><use href="#b" x="405.5" y="306.5"/><use href="#b" x="412.5" y="309.5"/><use href="#b" x="414.5" y="305.5"/><use href="#b" x="414.5" y="306.5"/><use href="#b" x="415.5" y="305.5"/><use href="#b" x="415.5" y="306.5"/><use href="#b" x="420.5" y="302.5"/><use href="#b" x="423.5" y="305.5"/><use href="#b" x="424.5" y="304.5"/><use href="#b" x="430.5" y="308.5"/><use href="#b" x="431.5" y="302.5"/><use href="#b" x="433.5" y="307.5"/><use href="#b" x="434.5" y="303.5"/><use href="#b" x="435.5" y="301.5"/><use href="#b" x="438.5" y="300.5"/><use href="#b" x="438.5" y="308.5"/><use href="#b" x="441.5" y="299.5"/><use href="#b" x="441.5" y="300.5"/><use href="#b" x="441.5" y="301.5"/><use href="#b" x="441.5" y="303.5"/><use href="#b" x="442.5" y="306.5"/><use href="#b" x="443.5" y="308.5"/><use href="#b" x="444.5" y="304.5"/><use href="#b" x="444.5" y="309.5"/><use href="#b" x="445.5" y="304.5"/><use href="#b" x="446.5" y="302.5"/><use href="#b" x="446.5" y="309.5"/><use href="#b" x="448.5" y="307.5"/><use href="#b" x="449.5" y="305.5"/><use href="#b" x="449.5" y="308.5"/><use href="#b" x="450.5" y="303.5"/><use href="#b" x="453.5" y="304.5"/><use href="#b" x="455.5" y="300.5"/><use href="#b" x="466.5" y="307.5"/></g>
<rect x="370" y="31" width="1" height="320" fill="#666b1e"/>
</svg>
<svg class="ov" width="720" height="400" viewBox="0 0 720 400">
<text x="360" y="14" text-anchor="middle" font-size="13" textLength="115" lengthAdjust="spacingAndGlyphs">VITESSE vs PENTE</text>
<g font-size="11.5"><text x="49.2" y="368" text-anchor="middle" letter-spacing="0.25">-40</text><text x="89.2" y="368" text-anchor="middle" letter-spacing="0.25">-35</text><text x="129.2" y="368" text-anchor="middle" letter-spacing="0.25">-30</text><text x="169.2" y="368" text-anchor="middle" letter-spacing="0.25">-25</text><text x="209.2" y="368" text-anchor="middle" letter-spacing="0.25">-20</text><text x="249.2" y="368" text-anchor="middle" letter-spacing="0.25">-15</text><text x="289.2" y="368" text-anchor="middle" letter-spacing="0.25">-10</text><text x="329.2" y="368" text-anchor="middle" letter-spacing="0.25">-5</text><text x="369.2" y="368" text-anchor="middle" letter-spacing="0.25">0</text><text x="409.2" y="368" text-anchor="middle" letter-spacing="0.25">5</text><text x="449.2" y="368" text-anchor="middle" letter-spacing="0.25">10</text><text x="489.2" y="368" text-anchor="middle" letter-spacing="0.25">15</text><text x="529.2" y="368" text-anchor="middle" letter-spacing="0.25">20</text><text x="569.2" y="368" text-anchor="middle" letter-spacing="0.25">25</text><text x="609.2" y="368" text-anchor="middle" letter-spacing="0.25">30</text><text x="649.2" y="368" text-anchor="middle" letter-spacing="0.25">35</text><text x="689.2" y="368" text-anchor="middle" letter-spacing="0.25">40</text></g>
<text x="690" y="383.5" text-anchor="end" font-size="11.5" textLength="54" lengthAdjust="spacingAndGlyphs">Pente [%]</text>
<g font-size="11.5"><text x="361.5" y="34.0" text-anchor="end" letter-spacing="0.3">53</text><text x="361.5" y="63.1" text-anchor="end" letter-spacing="0.3">48</text><text x="361.5" y="92.2" text-anchor="end" letter-spacing="0.3">43</text><text x="361.5" y="121.3" text-anchor="end" letter-spacing="0.3">38</text><text x="361.5" y="150.4" text-anchor="end" letter-spacing="0.3">33</text><text x="361.5" y="179.5" text-anchor="end" letter-spacing="0.3">28</text><text x="361.5" y="208.5" text-anchor="end" letter-spacing="0.3">23</text><text x="361.5" y="237.6" text-anchor="end" letter-spacing="0.3">18</text><text x="361.5" y="266.7" text-anchor="end" letter-spacing="0.3">13</text><text x="361.5" y="295.8" text-anchor="end" letter-spacing="0.3">8</text><text x="361.5" y="324.9" text-anchor="end" letter-spacing="0.3">3</text><text x="361.5" y="354.0" text-anchor="end" letter-spacing="0.3">3</text></g>
<text transform="translate(342.5,190) rotate(-90)" text-anchor="middle" font-size="11.5" textLength="82" lengthAdjust="spacingAndGlyphs">Vitesse [km/h]</text>
</svg>
</body></html>
